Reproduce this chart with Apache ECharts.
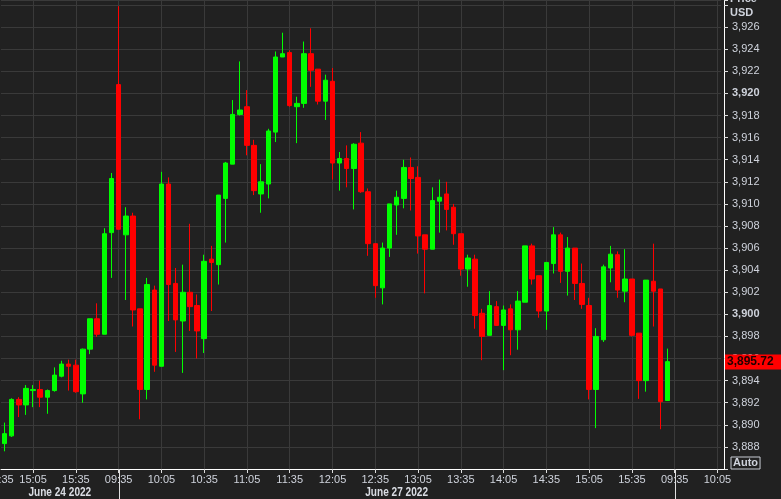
<!DOCTYPE html>
<html><head><meta charset="utf-8">
<script src="https://cdn.jsdelivr.net/npm/echarts@6/dist/echarts.min.js"></script>
<style>html,body{margin:0;padding:0;background:#212121;overflow:hidden}#c{width:781px;height:499px}</style>
</head><body><div id="c"></div>
<script>
// ---- data ----
const timesJun24 = ['14:45','14:50','14:55','15:00','15:05','15:10','15:15','15:20','15:25','15:30','15:35','15:40','15:45','15:50','15:55'];
const timesJun27 = [
 '09:30','09:35','09:40','09:45','09:50','09:55',
 '10:00','10:05','10:10','10:15','10:20','10:25','10:30','10:35','10:40','10:45','10:50','10:55',
 '11:00','11:05','11:10','11:15','11:20','11:25','11:30','11:35','11:40','11:45','11:50','11:55',
 '12:00','12:05','12:10','12:15','12:20','12:25','12:30','12:35','12:40','12:45','12:50','12:55',
 '13:00','13:05','13:10','13:15','13:20','13:25','13:30','13:35','13:40','13:45','13:50','13:55',
 '14:00','14:05','14:10','14:15','14:20','14:25','14:30','14:35','14:40','14:45','14:50','14:55',
 '15:00','15:05','15:10','15:15','15:20','15:25','15:30','15:35','15:40','15:45','15:50','15:55'];
const timesJun28 = ['09:30','09:35','09:40','09:45','09:50','09:55','10:00','10:05'];
const dayPrefixes = ['06-24','06-27','06-28'];
const dayLabels = ['June 24 2022','June 27 2022'];
const leftCutLabel = '14:35';

const opens = [3888.3,3889.0,3892.3,3891.8,3893.1,3893.2,3892.5,3893.1,3894.4,3895.5,
 3895.4,3892.8,3896.85,3899.6,3898.2,3907.4,3920.8,3907.2,3908.9,3900.5,
 3893.2,3902.2,3895.3,3911.8,3902.8,3899.4,3902.0,3900.8,3897.8,3905.0,
 3904.5,3910.5,3913.6,3918.1,3918.8,3915.3,3910.9,3911.8,3916.5,3923.3,
 3923.7,3918.8,3919.1,3923.6,3922.2,3919.3,3921.1,3913.7,3914.1,3913.2,
 3915.5,3911.1,3906.4,3902.4,3906.0,3909.9,3910.5,3913.3,3912.4,3907.2,
 3905.9,3910.25,3910.9,3909.7,3907.3,3904.1,3905.0,3900.1,3898.1,3900.7,
 3899.0,3900.5,3898.6,3901.1,3906.2,3903.5,3900.3,3904.6,3907.2,3903.9,
 3906.0,3902.8,3900.8,3893.2,3897.7,3904.2,3905.4,3902.1,3903.2,3898.3,
 3894.0,3903.0,3902.3,3892.2];
const closes = [3889.2,3892.3,3891.8,3893.3,3893.2,3892.5,3893.1,3894.5,3895.5,3895.3,
 3893.0,3896.85,3899.6,3898.2,3907.3,3912.3,3907.7,3908.9,3900.4,3893.2,
 3902.7,3895.4,3911.8,3902.7,3899.5,3902.0,3900.7,3898.5,3904.8,3904.7,
 3910.8,3913.7,3918.1,3918.5,3915.3,3911.2,3912.0,3916.6,3923.3,3923.6,
 3918.9,3919.1,3923.6,3922.1,3919.3,3921.2,3913.7,3914.1,3913.2,3915.4,
 3911.1,3906.4,3902.6,3906.0,3910.0,3910.6,3913.3,3912.3,3907.1,3905.9,
 3910.3,3910.6,3909.5,3907.3,3904.1,3905.1,3899.9,3898.0,3900.8,3899.0,
 3900.4,3898.6,3901.2,3906.2,3903.2,3900.3,3904.7,3907.2,3903.9,3906.0,
 3902.8,3900.9,3893.2,3898.0,3904.3,3905.45,3902.2,3903.2,3898.1,3894.0,
 3903.1,3902.1,3892.1,3895.72];
const lows = [3887.6,3888.9,3890.7,3890.9,3891.6,3891.6,3891.0,3893.0,3894.3,3893.1,
 3892.9,3892.0,3896.4,3897.96,3898.2,3903.3,3907.7,3901.3,3898.9,3890.5,
 3892.3,3894.8,3895.3,3899.4,3896.6,3894.7,3898.5,3896.0,3896.5,3900.3,
 3902.7,3906.5,3913.6,3918.0,3914.4,3910.8,3909.2,3910.5,3915.6,3923.3,
 3918.8,3915.5,3918.7,3920.6,3919.0,3917.6,3912.2,3911.2,3911.5,3909.5,
 3911.0,3905.3,3901.5,3900.9,3905.2,3907.2,3909.6,3909.4,3905.5,3901.9,
 3905.9,3907.4,3907.6,3906.3,3903.5,3902.5,3898.7,3895.85,3898.1,3898.96,
 3894.95,3896.3,3896.8,3901.1,3902.7,3899.7,3898.6,3903.7,3902.85,3901.7,
 3901.3,3900.5,3892.3,3889.7,3897.5,3902.9,3901.5,3901.1,3898.0,3892.35,
 3893.0,3898.9,3889.6,3892.2];
const highs = [3890.2,3892.4,3892.5,3893.6,3893.6,3894.0,3893.2,3895.2,3895.8,3895.9,
 3895.9,3896.9,3899.6,3901.0,3907.8,3912.8,3927.9,3909.7,3909.2,3900.5,
 3903.3,3902.6,3912.9,3912.4,3904.2,3904.5,3908.2,3901.8,3905.4,3906.2,
 3910.8,3913.8,3919.4,3922.9,3920.3,3915.8,3913.6,3916.8,3923.8,3925.5,
 3923.9,3919.7,3924.7,3925.9,3922.2,3921.7,3922.3,3914.7,3915.3,3915.5,
 3916.5,3911.4,3906.4,3906.5,3910.0,3911.2,3914.0,3914.2,3913.4,3907.2,
 3911.5,3912.2,3912.0,3910.0,3907.3,3905.4,3905.4,3900.5,3902.1,3901.2,
 3900.8,3900.9,3902.1,3906.2,3906.4,3903.5,3904.7,3907.9,3907.4,3907.0,
 3906.0,3904.6,3901.5,3898.75,3904.5,3906.2,3905.7,3905.9,3903.2,3898.3,
 3903.1,3906.4,3902.3,3896.9];
const lastPrice = 3895.72;
const yMin = 3886, yMax = 3928.46, yStep = 2;

// ---- build ----
const categories = [].concat(
  timesJun24.map(t => dayPrefixes[0] + ' ' + t),
  timesJun27.map(t => dayPrefixes[1] + ' ' + t),
  timesJun28.map(t => dayPrefixes[2] + ' ' + t));
const candleData = opens.map((o, i) => [o, closes[i], lows[i], highs[i]]);
const isMarked = (idx, val) => { const m = String(val).slice(-2); return m === '05' || m === '35'; };
const FONT = "'Liberation Sans', Arial, sans-serif";
const TXT = '#cfd3dc';
const GRIDC = '#3a3a3a';

const chart = echarts.init(document.getElementById('c'), null, {renderer: 'canvas'});
chart.setOption({
  animation: false,
  backgroundColor: '#212121',
  grid: {left: 1, right: 60, top: 0, bottom: 30},
  xAxis: {
    type: 'category', data: categories, boundaryGap: true,
    axisLine: {show: true, lineStyle: {color: '#ffffff', width: 1}},
    axisTick: {show: true, alignWithLabel: true, interval: isMarked, length: 4, lineStyle: {color: '#dddddd'}},
    axisLabel: {interval: isMarked, margin: 5, color: TXT, fontFamily: FONT, fontSize: 11,
      formatter: v => v.slice(-5)},
    splitLine: {show: true, interval: isMarked, alignWithLabel: true, lineStyle: {color: GRIDC, width: 1}}
  },
  yAxis: {
    type: 'value', position: 'right', offset: 3, scale: true,
    min: yMin, max: yMax, interval: yStep,
    axisLine: {show: true, lineStyle: {color: '#ffffff', width: 1}},
    axisTick: {show: true, length: 4, lineStyle: {color: '#dddddd'}},
    axisLabel: {margin: 8, color: TXT, fontFamily: FONT, fontSize: 11,
      formatter: v => {
        if (v <= yMin || v > 3927) return '';
        const s = v.toLocaleString('en-US');
        return v % 20 === 0 ? '{b|' + s + '}' : s;
      },
      rich: {b: {fontWeight: 'bold', color: TXT, fontFamily: FONT, fontSize: 11}}
    },
    splitLine: {show: true, lineStyle: {color: GRIDC, width: 1}}
  },
  series: [{
    type: 'candlestick', data: candleData, barWidth: 5,
    itemStyle: {color: '#00ff00', color0: '#ff0000', borderColor: '#00ff00', borderColor0: '#ff0000', borderWidth: 1}
  }]
});

// ---- decorations computed from axis positions ----
const xOf = c => chart.convertToPixel({xAxisIndex: 0}, c);
const yOf = v => chart.convertToPixel({yAxisIndex: 0}, v);
const gridRect = chart.getModel().getComponent('grid').coordinateSystem.getRect();
const bottomY = gridRect.y + gridRect.height;
const rightX = gridRect.x + gridRect.width;
const sepCats = [dayPrefixes[1] + ' 09:35', dayPrefixes[2] + ' 09:35'];
const seps = sepCats.map(xOf);
const dayCenters = [(gridRect.x + seps[0]) / 2, (seps[0] + seps[1]) / 2];
const g = [];
seps.forEach(x => g.push({type: 'line', z: 100, shape: {x1: Math.round(x) + 0.5, y1: bottomY, x2: Math.round(x) + 0.5, y2: 499}, style: {stroke: '#e0e0e0', lineWidth: 1}, silent: true}));
dayLabels.forEach((t, i) => g.push({type: 'text', z: 100, x: dayCenters[i], y: bottomY + 24, scaleX: 0.84, style: {text: t, fill: '#dadde4', font: "bold 12px 'Liberation Sans', sans-serif", align: 'center', verticalAlign: 'middle'}, silent: true}));
// partially visible label at the left edge
g.push({type: 'text', z: 100, x: xOf(categories[1]) + 2, y: bottomY + 5, style: {text: leftCutLabel, fill: TXT, font: '11px ' + FONT, align: 'right', verticalAlign: 'top'}, silent: true});
// bottom border extends to the right axis line
g.push({type: 'line', z: 100, shape: {x1: rightX, y1: bottomY + 0.5, x2: rightX + 3.5, y2: bottomY + 0.5}, style: {stroke: '#ffffff', lineWidth: 1}, silent: true});
// header
g.push({type: 'text', z: 100, x: rightX + 9, y: -1, style: {text: 'Price', fill: TXT, font: 'bold 11px ' + FONT, verticalAlign: 'middle'}, silent: true});
g.push({type: 'text', z: 100, x: rightX + 9, y: 13, style: {text: 'USD', fill: TXT, font: 'bold 11px ' + FONT, verticalAlign: 'middle'}, silent: true});
// last price tag
g.push({type: 'text', z: 200, x: rightX + 4, y: Math.round(yOf(lastPrice)), style: {
  text: lastPrice.toLocaleString('en-US', {minimumFractionDigits: 2}), fill: '#200000',
  font: 'bold 12px ' + FONT, verticalAlign: 'middle', backgroundColor: '#ff0000', padding: [2, 8, 1, 2]}, silent: true});
// Auto box
g.push({type: 'text', z: 100, x: rightX + 10, y: bottomY - 6, style: {text: 'Auto', fill: TXT, font: 'bold 11px ' + FONT, verticalAlign: 'middle', borderColor: '#c8ccd4', borderWidth: 1, padding: [1, 2, 0, 2]}, silent: true});
chart.setOption({graphic: g});
</script></body></html>
